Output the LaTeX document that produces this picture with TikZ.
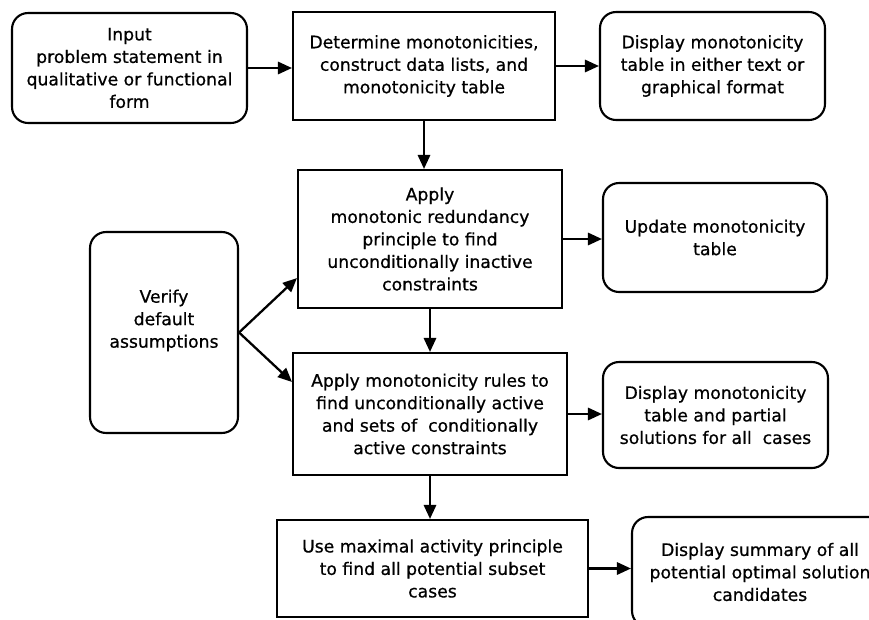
\documentclass[tikz,border=0pt]{standalone}
\usepackage{fontspec}
\setmainfont{DejaVu Sans}[FakeBold=0.7]
\usetikzlibrary{arrows.meta}

\begin{document}
\begin{tikzpicture}[x=0.02cm,y=-0.02cm,
    box/.style={draw,line width=1.2pt,align=center,inner sep=0pt,
      font=\fontsize{9.8}{12.8}\selectfont},
    rbox/.style={box,rounded corners=0.32cm},
    flow/.style={-{Triangle[length=8pt,width=7pt]},line width=1.3pt}]
  \useasboundingbox (0,0) rectangle (869,619);

  % top row
  \node[rbox,minimum width=4.7cm,minimum height=2.2cm] (inp) at (129.5,68)
     {Input\\ problem statement in\\ qualitative or functional\\ form};
  \node[box,minimum width=5.24cm,minimum height=2.16cm] (det) at (424,66)
     {Determine monotonicities,\\ construct data lists, and\\ monotonicity table};
  \node[rbox,minimum width=4.5cm,minimum height=2.16cm] (disp) at (712.5,66)
     {Display monotonicity\\ table in either text or\\ graphical format};

  % middle
  \node[box,minimum width=5.28cm,minimum height=2.76cm] (redund) at (430,239)
     {Apply\\ monotonic redundancy\\ principle to find\\ unconditionally inactive\\ constraints};
  \node[rbox,minimum width=4.48cm,minimum height=2.18cm] (upd) at (715,237.5)
     {Update monotonicity\\ table};
  \node[rbox,minimum width=2.96cm,minimum height=4.02cm] (verif) at (164,332.5)
     {Verify\\ default\\ assumptions\\[3pt]\mbox{}};
  \node[box,minimum width=5.48cm,minimum height=2.44cm] (rules) at (430,414)
     {Apply monotonicity rules to\\ find unconditionally active\\ and sets of~ conditionally\\ active constraints};
  \node[rbox,minimum width=4.5cm,minimum height=2.12cm] (partial) at (715.5,415)
     {Display monotonicity\\ table and partial\\ solutions for all~ cases};

  % bottom row
  \node[box,minimum width=6.22cm,minimum height=1.94cm] (maxact) at (432.5,568.5)
     {Use maximal activity principle\\ to find all potential subset\\ cases};
  \node[rbox,minimum width=5.12cm,minimum height=2.2cm] (summ) at (760,572)
     {Display summary of all\\ potential optimal solution\\ candidates};

  \draw[flow] (inp.east) -- (inp.east -| det.west);
  \draw[flow] (det.east) -- (det.east -| disp.west);
  \draw[flow] (det.south) -- (det.south |- redund.north);
  \draw[flow] (redund.east) -- (redund.east -| upd.west);
  \draw[flow] (redund.south) -- (redund.south |- rules.north);
  \draw[flow] (verif.east) -- ([yshift=0.62cm]redund.south west);
  \draw[flow] (verif.east) -- ([yshift=-0.6cm]rules.north west);
  \draw[flow] (rules.east) -- (rules.east -| partial.west);
  \draw[flow] (rules.south) -- (rules.south |- maxact.north);
  \draw[flow] (maxact.east) -- (maxact.east -| summ.west);
\end{tikzpicture}
\end{document}
